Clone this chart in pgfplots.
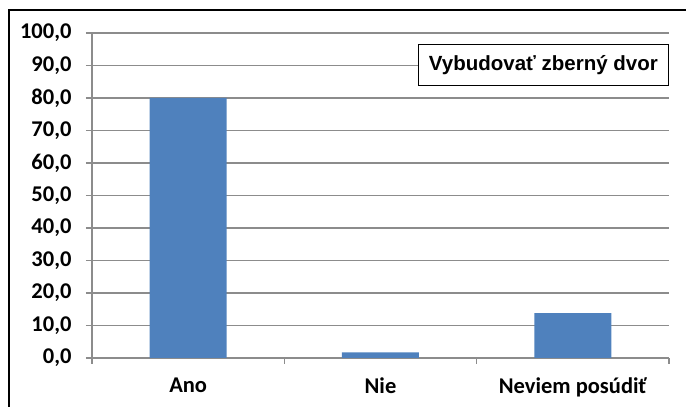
\documentclass[border=0pt]{standalone}
\usepackage{fontspec}
\setmainfont{Carlito}
\newfontfamily\arialb{Liberation Sans}
\usepackage{pgfplots}
\pgfplotsset{compat=1.18}
\definecolor{barblue}{HTML}{4F81BD}
\definecolor{gridgray}{HTML}{8C8C8C}
\begin{document}
\begin{tikzpicture}
\begin{axis}[
  scale only axis, width=577pt, height=325pt,
  xmin=-0.5, xmax=2.5, ymin=0, ymax=100,
  axis x line*=bottom, axis y line*=left,
  axis line style={gridgray, line width=1.2pt, -},
  ytick={0,10,...,100},
  ymajorgrids, major grid style={gridgray, line width=1.2pt},
  tick align=outside, major tick length=6pt,
  tick style={gridgray, line width=1.2pt},
  xtick={-0.5,0.5,1.5,2.5}, xticklabels={},
  extra x ticks={0,1,2},
  extra x tick labels={Ano,Nie,Neviem posúdiť},
  extra x tick style={major tick length=0pt, grid=none, tick style={draw=none}},
  ticklabel style={font=\bfseries\fontsize{22.5}{22.5}\selectfont, text=black},
  yticklabel style={xshift=-11pt, /pgf/number format/.cd, fixed, fixed zerofill, precision=1, use comma, assume math mode=true},
  xticklabel style={yshift=-16pt},
  ybar, bar width=77pt,
]
\addplot[fill=barblue, draw=none] coordinates {(0,80) (1,1.7) (2,13.8)};
\node[draw=black, line width=1.2pt, fill=white, minimum width=250pt, minimum height=41pt, anchor=north east, inner sep=0pt,
  font=\arialb\bfseries\fontsize{20.5}{20.5}\selectfont] at (rel axis cs:1,0.966) {Vybudovať zberný dvor};
\end{axis}
\draw[line width=2pt, black] (-83pt,-60pt) -- (-83pt,348pt) -- (600pt,348pt);
\pgfresetboundingbox
\useasboundingbox (-92pt,-49pt) rectangle (594pt,358pt);
\end{tikzpicture}
\end{document}
